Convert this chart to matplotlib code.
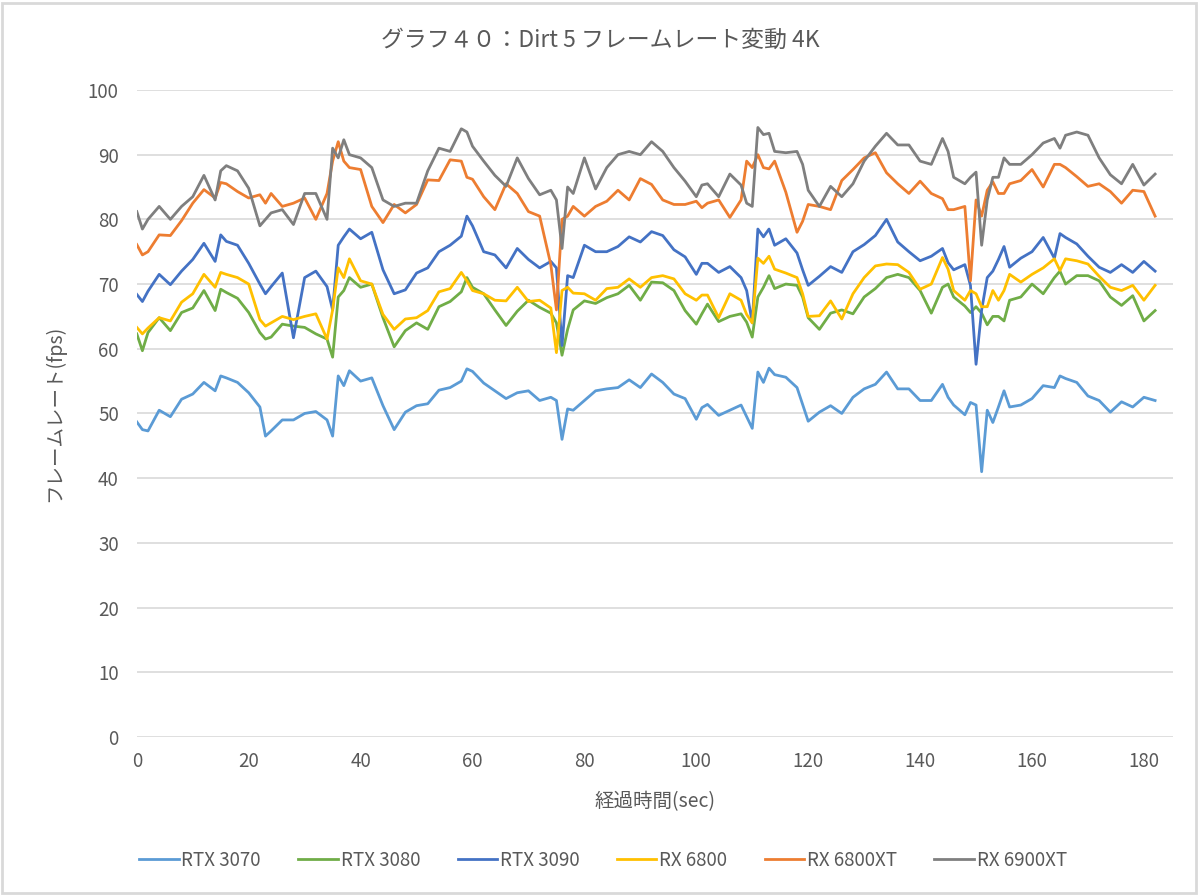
import matplotlib.pyplot as plt
from matplotlib.patches import Rectangle

plt.rcParams['font.family'] = ['Noto Sans CJK JP', 'DejaVu Sans']

title = 'グラフ４０：Dirt 5 フレームレート変動 4K'
xlabel = '経過時間(sec)'
ylabel = 'フレームレート(fps)'

sec = [0, 1, 2, 4, 6, 8, 10, 12, 14, 15,
       16, 18, 20, 22, 23, 24, 26, 28, 30, 32,
       34, 35, 36, 37, 38, 40, 42, 44, 46, 48,
       50, 52, 54, 56, 58, 59, 60, 62, 64, 66,
       68, 70, 72, 74, 75, 76, 77, 78, 80, 82,
       84, 86, 88, 90, 92, 94, 96, 98, 100, 101,
       102, 104, 106, 108, 109, 110, 111, 112, 113, 114,
       116, 118, 119, 120, 122, 124, 126, 128, 130, 132,
       134, 136, 138, 140, 142, 144, 145, 146, 148, 149,
       150, 151, 152, 153, 154, 155, 156, 158, 160, 162,
       164, 165, 166, 168, 170, 172, 174, 176, 178, 180,
       182]

rtx3070 = [48.7, 47.5, 47.3, 50.5, 49.5, 52.2, 53, 54.8, 53.5, 55.8,
           55.5, 54.8, 53.2, 51, 46.5, 47.3, 49, 49, 50, 50.3,
           49, 46.5, 55.8, 54.3, 56.6, 55, 55.5, 51.2, 47.5, 50.2,
           51.2, 51.5, 53.6, 54, 55, 56.9, 56.5, 54.7, 53.5, 52.3,
           53.2, 53.5, 52, 52.5, 52, 46, 50.7, 50.5, 52, 53.5,
           53.8, 54, 55.2, 54, 56.1, 54.8, 53, 52.3, 49.1, 50.9,
           51.4, 49.7, 50.5, 51.3, 49.5, 47.7, 56.4, 54.8, 57, 56,
           55.6, 54, 51.4, 48.8, 50.2, 51.2, 50, 52.5, 53.8, 54.5,
           56.4, 53.8, 53.8, 52, 52, 54.5, 52.5, 51.3, 49.8, 51.7,
           51.3, 41, 50.5, 48.6, 51, 53.5, 51, 51.3, 52.3, 54.3,
           54, 55.8, 55.4, 54.8, 52.7, 52, 50.2, 51.8, 51, 52.5,
           52]

rtx3080 = [62.3, 59.7, 62.5, 64.8, 62.8, 65.6, 66.3, 69, 65.9, 69.2,
           68.7, 67.8, 65.6, 62.5, 61.5, 61.8, 63.8, 63.5, 63.3, 62.3,
           61.5, 58.7, 68, 69, 71, 69.5, 70, 64.8, 60.3, 62.8,
           64, 63, 66.5, 67.3, 68.8, 71, 69.5, 68.5, 66, 63.6,
           65.8, 67.5, 66.4, 65.5, 64, 59, 63, 66, 67.4, 67,
           67.9, 68.5, 69.8, 67.5, 70.3, 70.2, 69, 65.9, 63.8, 65.4,
           66.9, 64.2, 65, 65.4, 64.1, 61.8, 68, 69.5, 71.3, 69.3,
           70, 69.8, 68, 64.8, 63, 65.5, 66, 65.4, 68, 69.3,
           71, 71.5, 71, 69, 65.5, 69.5, 70, 68, 66.6, 65.6,
           66.5, 65.5, 63.7, 65, 65, 64.3, 67.5, 68, 70, 68.5,
           71, 72, 70, 71.3, 71.3, 70.5, 68, 66.7, 68.2, 64.3,
           65.9]

rtx3090 = [68.4, 67.3, 68.9, 71.5, 69.9, 72, 73.8, 76.3, 73.5, 77.6,
           76.6, 76, 73.2, 70, 68.5, 69.6, 71.7, 61.7, 71, 72,
           69.6, 66, 76, 77.3, 78.5, 77, 78, 72.2, 68.5, 69.1,
           71.7, 72.5, 75, 76, 77.4, 80.5, 79, 75, 74.5, 72.5,
           75.5, 73.8, 72.5, 73.5, 72.5, 60.5, 71.3, 71, 76, 75,
           75, 75.8, 77.3, 76.5, 78.1, 77.5, 75.3, 74.2, 71.5, 73.2,
           73.2, 71.8, 72.7, 71, 69, 64, 78.5, 77.3, 78.5, 76,
           77, 74.8, 72.2, 69.8, 71.2, 72.7, 71.8, 75, 76.1, 77.5,
           80, 76.5, 75, 73.6, 74.3, 75.5, 73.3, 72.2, 73, 69.8,
           57.6, 66, 71, 72, 73.8, 75.8, 72.6, 74, 75, 77.2,
           74, 77.8, 77.2, 76.2, 74.3, 72.6, 71.8, 73, 71.8, 73.5,
           72]

rx6800 = [63.3, 62.3, 63.2, 64.8, 64.3, 67.2, 68.5, 71.5, 69.5, 71.8,
          71.5, 71, 70, 64.5, 63.5, 64, 65, 64.5, 65, 65.4,
          61.5, 66, 72.5, 71, 73.9, 70.5, 70, 65.3, 63, 64.6,
          64.8, 65.9, 68.8, 69.3, 71.8, 70.5, 69, 68.5, 67.5, 67.4,
          69.5, 67.3, 67.5, 66.3, 59.4, 69, 69.5, 68.6, 68.5, 67.5,
          69.3, 69.5, 70.8, 69.5, 71, 71.3, 70.8, 68.5, 67.5, 68.3,
          68.3, 64.8, 68.5, 67.5, 65.3, 64, 74, 73.2, 74.3, 72.3,
          71.7, 71, 68.5, 65, 65.1, 67.4, 64.6, 68.5, 71, 72.8,
          73.1, 73, 71.8, 69.2, 70, 74.1, 72.3, 69, 67.5, 69,
          68.5, 66.5, 66.5, 69, 67.5, 69, 71.5, 70.3, 71.5, 72.5,
          73.9, 72.1, 73.9, 73.6, 73.1, 71.2, 69.5, 69, 69.8, 67.5,
          69.8]

rx6800xt = [76.1, 74.5, 75, 77.6, 77.5, 79.8, 82.5, 84.6, 83.3, 85.7,
            85.5, 84.3, 83.3, 83.8, 82.5, 84, 82, 82.5, 83.3, 80,
            84, 89, 92, 89, 88, 87.7, 82, 79.5, 82.3, 81,
            82.3, 86.1, 86, 89.2, 89, 86.5, 86.2, 83.5, 81.5, 85.5,
            84, 81.2, 80.5, 73, 66, 80, 80.5, 82, 80.5, 82,
            82.8, 84.5, 83, 86.3, 85.4, 83, 82.3, 82.3, 82.8, 81.8,
            82.5, 83, 80.3, 83, 89, 88, 90, 88, 87.8, 89,
            84.2, 78, 79.7, 82.3, 82, 81.5, 86, 87.7, 89.5, 90.3,
            87.2, 85.5, 84, 85.9, 84, 83.2, 81.5, 81.5, 82, 70.5,
            83, 80.5, 84.5, 85.8, 84, 84, 85.5, 86, 87.7, 85,
            88.5, 88.5, 88, 86.6, 85.1, 85.5, 84.3, 82.5, 84.5, 84.3,
            80.5]

rx6900xt = [81.2, 78.5, 80, 82, 80, 82, 83.5, 86.8, 83, 87.5,
            88.3, 87.5, 84.8, 79, 80, 81, 81.5, 79.2, 84, 84,
            80, 91, 89.5, 92.3, 90, 89.5, 88, 83, 82, 82.5,
            82.5, 87.5, 91, 90.5, 94, 93.5, 91.3, 89, 86.8, 85.1,
            89.5, 86.3, 83.8, 84.5, 83, 75.5, 85, 84, 89.5, 84.7,
            88, 90, 90.5, 90, 92, 90.5, 88, 85.9, 83.5, 85.3,
            85.5, 83.5, 87, 85.3, 82.5, 82, 94.2, 93.1, 93.3, 90.5,
            90.3, 90.5, 88.5, 84.5, 82, 85.1, 83.5, 85.5, 89, 91.3,
            93.3, 91.5, 91.5, 89, 88.5, 92.5, 90.5, 86.5, 85.5, 86.5,
            87.3, 76, 83, 86.5, 86.5, 89.5, 88.5, 88.5, 90, 91.8,
            92.5, 91, 93, 93.5, 93, 89.5, 86.9, 85.5, 88.5, 85.3,
            87]

names = ['RTX 3070', 'RTX 3080', 'RTX 3090', 'RX 6800', 'RX 6800XT', 'RX 6900XT']
series = [rtx3070, rtx3080, rtx3090, rx6800, rx6800xt, rx6900xt]
colors = ['#5B9BD5', '#70AD47', '#4472C4', '#FFC000', '#ED7D31', '#7F7F7F']

fig = plt.figure(figsize=(12, 8.96), dpi=100)
ax = fig.add_axes([0.114, 0.1775, 0.8635, 0.7221])

for name, vals, c in zip(names, series, colors):
    ax.plot(sec, vals, color=c, lw=2.0, label=name, solid_joinstyle='round')

ax.set_xlim(0, 185.2)
ax.set_ylim(0, 100)
ax.set_xticks(range(0, 181, 20))
ax.set_yticks(range(0, 101, 10))
ax.grid(axis='y', color='#D9D9D9', lw=1.2)
ax.set_axisbelow(True)
for s in ax.spines.values():
    s.set_visible(False)
ax.tick_params(length=0, labelsize=13.5, colors='#595959', pad=10)
ax.tick_params(axis='y', pad=13)

ax.set_xlabel(xlabel, fontsize=14, color='#595959', labelpad=14)
ax.set_ylabel(ylabel, fontsize=14, color='#595959', labelpad=16)
fig.text(0.5, 0.955, title, ha='center', va='center', fontsize=16.5, color='#595959')

ax.legend(loc='upper center', bbox_to_anchor=(0.45, -0.148), ncol=6, frameon=False,
          fontsize=13.5, labelcolor='#595959', handlelength=2.1, handletextpad=0.15,
          columnspacing=2.0)

fig.patches.append(Rectangle((0.002, 0.003), 0.995, 0.994, transform=fig.transFigure,
                             fill=False, edgecolor='#D9D9D9', lw=2))

fig.savefig('out.png', dpi=100, facecolor='white')
